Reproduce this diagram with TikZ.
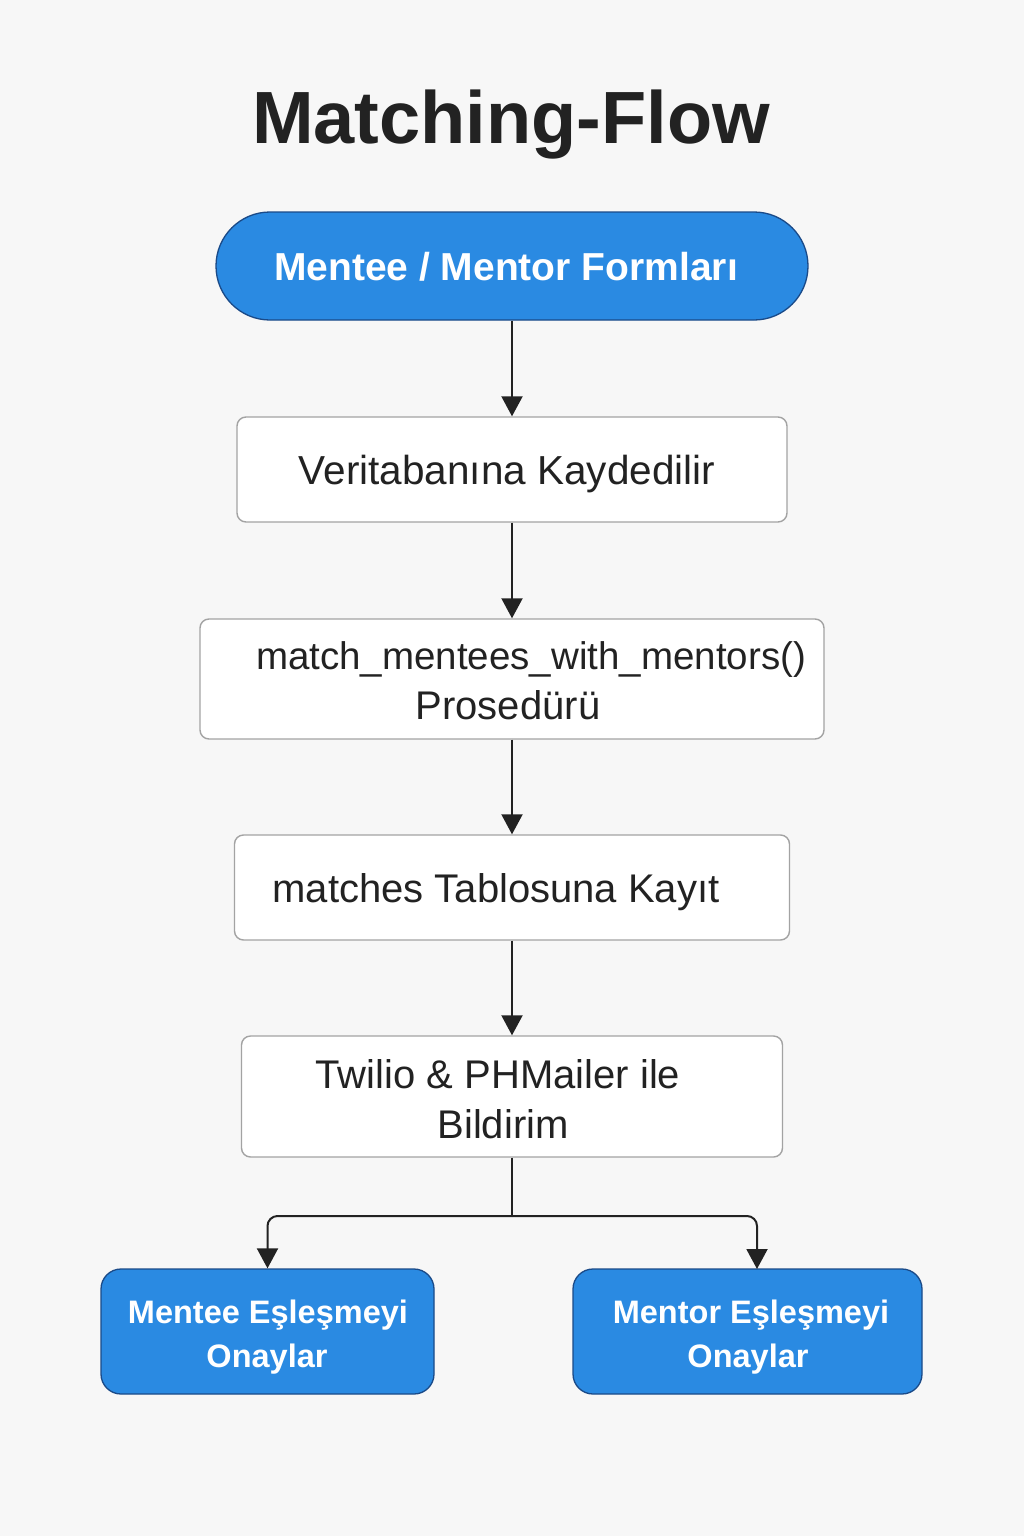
\documentclass[tikz,border=0pt]{standalone}
\usepackage{fontspec}
\setmainfont{Liberation Sans}
\usetikzlibrary{arrows.meta}
\definecolor{bgc}{HTML}{F7F7F7}
\definecolor{bluefill}{HTML}{2A8AE2}
\definecolor{blueedge}{HTML}{1A4A88}
\definecolor{grayedge}{HTML}{A3A3A3}
\definecolor{txt}{HTML}{222222}
\tikzset{
  bluebox/.style={draw=blueedge, line width=1.3pt, fill=bluefill, inner sep=0pt},
  whitebox/.style={draw=grayedge, line width=1.4pt, fill=white, rounded corners=9pt, inner sep=0pt},
  wtext/.style={font=\fontsize{40}{50}\selectfont, text=txt, anchor=base, inner sep=0pt},
  btext/.style={font=\bfseries\fontsize{32.5}{44}\selectfont, text=white, anchor=base, inner sep=0pt},
  flow/.style={line width=2pt, draw=txt, -{Triangle[length=20pt,width=21pt]}},
}
\begin{document}
\begin{tikzpicture}[x=1pt,y=-1pt]
\fill[bgc] (0,0) rectangle (1024,1536);
\useasboundingbox (0,0) rectangle (1024,1536);

\node[font=\bfseries\fontsize{74}{80}\selectfont, text=txt, anchor=base, inner sep=0pt] (title) at (511,143) {Matching-Flow};

\node[bluebox, rounded corners=54pt, minimum width=592pt, minimum height=108pt] (start) at (512,266) {};
\node[font=\bfseries\fontsize{39}{44}\selectfont, text=white, anchor=base, inner sep=0pt] (startt) at (506,280) {Mentee / Mentor Formları};

\node[whitebox, minimum width=550pt, minimum height=105pt] (db) at (512,469.5) {};
\node[wtext, font=\fontsize{40.5}{50}\selectfont] (dbt) at (507,484) {Veritabanına Kaydedilir};

\node[whitebox, minimum width=624pt, minimum height=120pt] (proc) at (512,679) {};
\node[wtext, font=\fontsize{38.5}{50}\selectfont] (proct1) at (531,669) {match\_mentees\_with\_mentors()};
\node[wtext] (proct2) at (508,719) {Prosedürü};

\node[whitebox, minimum width=555pt, minimum height=105pt] (tab) at (512,887.5) {};
\node[wtext] (tabt) at (496,902) {matches Tablosuna Kayıt};

\node[whitebox, minimum width=541pt, minimum height=121pt] (notif) at (512,1096.5) {};
\node[wtext] (notift1) at (498,1088) {Twilio \& PHMailer ile};
\node[wtext] (notift2) at (503,1138) {Bildirim};

\node[bluebox, rounded corners=20pt, minimum width=333pt, minimum height=125pt] (mentee) at (267.5,1331.5) {};
\node[btext] (menteet1) at (268,1323) {Mentee Eşleşmeyi};
\node[btext] (menteet2) at (267,1367) {Onaylar};

\node[bluebox, rounded corners=20pt, minimum width=349pt, minimum height=125pt] (mentor) at (747.5,1331.5) {};
\node[btext] (mentort1) at (751,1323) {Mentor Eşleşmeyi};
\node[btext] (mentort2) at (748,1367) {Onaylar};

\draw[flow] (start.south) -- (db.north);
\draw[flow] (db.south) -- (proc.north);
\draw[flow] (proc.south) -- (tab.north);
\draw[flow] (tab.south) -- (notif.north);

\coordinate (split) at (512,1216);
\coordinate (rtop) at (757,1269);
\draw[line width=2pt, draw=txt] (notif.south) -- (split);
\draw[flow, rounded corners=10pt] (split) -| (mentee.north);
\draw[flow, rounded corners=10pt] (split) -| (rtop);
\end{tikzpicture}
\end{document}
